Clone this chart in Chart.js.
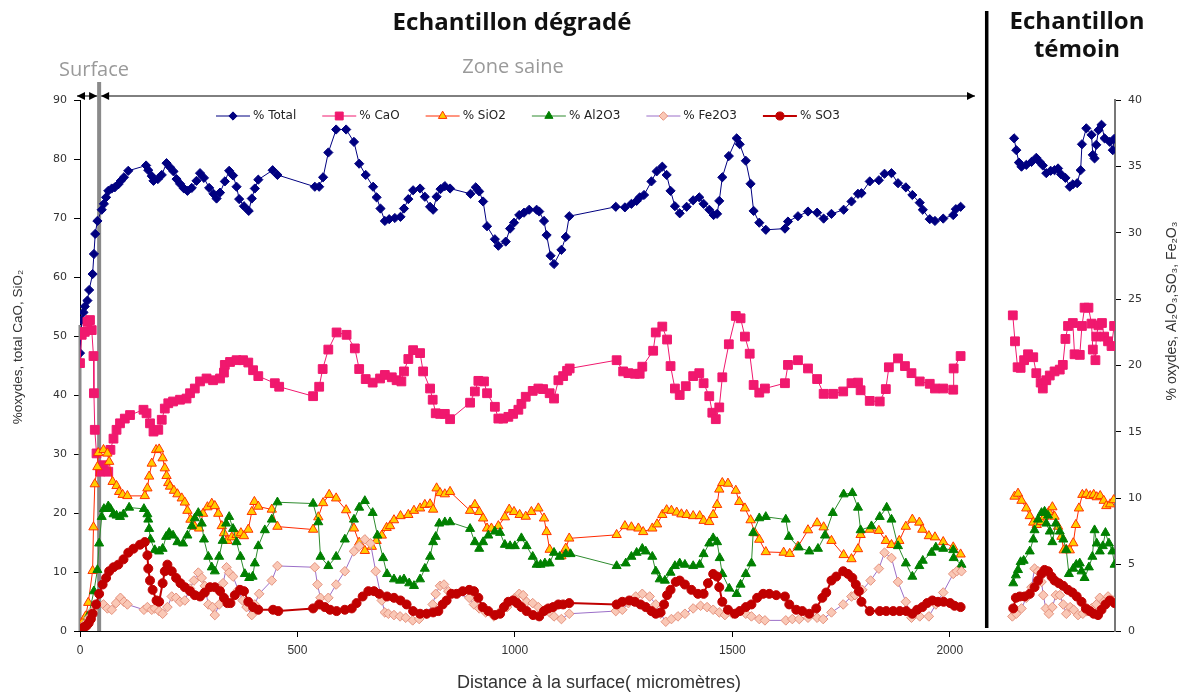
<!DOCTYPE html>
<html lang="fr">
<head>
<meta charset="utf-8">
<script src="https://cdn.jsdelivr.net/npm/chart.js@4.4.1/dist/chart.umd.min.js"></script>
<style>
  html, body { margin: 0; padding: 0; background: #fff; }
  #wrap { width: 1188px; height: 693px; position: relative; }
</style>
</head>
<body>
<div id="wrap"><canvas id="chart"></canvas></div>
<script>
// distances in micrometres, [x, value]
// left axis: Total, CaO, SiO2 (0-90) / right axis: Al2O3, Fe2O3, SO3 (0-40)
const totalDeg = [[0,47.1],[4,52.7],[8,54],[11,55],[17,56],[21,57.8],[29,60.5],[32,63.9],[35,67.3],[40,69.5],[50,71.4],[55,72.4],[60,73.5],[65,74.6],[73,75],[80,75.2],[88,75.7],[94,76.3],[101,76.9],[111,78],[152,78.9],[157,78.1],[165,77.1],[169,76.3],[179,76.6],[188,77.3],[199,79.3],[207,78.6],[215,77.9],[222,76.6],[230,75.8],[239,75],[247,74.6],[257,75.1],[268,76.3],[276,77.6],[285,76.8],[297,75.1],[307,74.1],[314,73.3],[322,74.3],[333,76.2],[343,78],[352,77.2],[360,75.3],[366,73.2],[377,72],[388,71.2],[395,73.3],[402,75],[410,76.5],[443,78.1],[454,77.3],[540,75.3],[550,75.3],[559,76.9],[571,81.1],[589,85],[612,85],[630,82.9],[642,79.2],[657,77.3],[674,75.3],[682,73.5],[691,71.6],[701,69.5],[711,69.8],[724,70],[737,70.2],[745,71.6],[755,73.2],[766,74.7],[782,75],[793,73.6],[805,71.9],[812,71.4],[820,73.6],[829,74.9],[839,75.4],[851,75],[898,74.1],[910,75.2],[918,74.5],[927,72.8],[936,68.6],[954,66.4],[962,65.3],[979,66],[989,68.2],[998,69.2],[1010,70.5],[1021,70.9],[1033,71.4],[1050,71.4],[1056,71.1],[1067,69.5],[1073,67.1],[1082,63.6],[1090,62.2],[1107,64.6],[1117,66.8],[1125,70.3],[1232,71.9],[1253,71.8],[1268,72.4],[1280,72.9],[1287,73.5],[1297,73.9],[1314,76.2],[1326,77.9],[1339,78.7],[1349,77.3],[1358,74.6],[1368,72],[1379,70.8],[1395,71.9],[1410,73],[1424,73.5],[1434,72.4],[1447,71.4],[1457,70.5],[1465,70.7],[1470,72.9],[1477,76.9],[1492,80.5],[1510,83.5],[1517,82.5],[1531,79.7],[1542,75.8],[1549,71.2],[1562,69.2],[1577,68],[1621,68.2],[1628,69.4],[1651,70.3],[1674,71.1],[1695,70.9],[1710,69.9],[1728,70.7],[1756,71.4],[1774,72.8],[1789,74.1],[1797,74.2],[1816,76.2],[1837,76.4],[1850,77.5],[1866,77.6],[1881,75.9],[1899,75.2],[1914,73.9],[1931,72.6],[1938,71.4],[1954,69.8],[1966,69.5],[1985,69.9],[2008,70.5],[2014,71.5],[2025,71.9]];
const totalTem = [[2148,83.5],[2153,81.5],[2159,79.4],[2165,78.7],[2176,79],[2188,79.5],[2199,80.2],[2207,79.5],[2214,78.9],[2222,77.6],[2232,78],[2241,78.1],[2249,78.4],[2256,77.4],[2266,76.8],[2276,75.3],[2283,75.7],[2293,75.9],[2301,78.1],[2304,82.5],[2314,85.2],[2326,84.1],[2329,80.7],[2333,80.1],[2337,82.4],[2342,84.9],[2349,85.8],[2356,83.5],[2368,82.9],[2375,81.5],[2378,83.4]];

const caoDeg = [[0,45.4],[4,50.2],[11,50.7],[17,52.4],[23,52.7],[27,51],[31,46.6],[32,40.3],[34,34.1],[38,30.1],[46,27],[54,28.1],[65,27],[70,30.7],[77,32.6],[84,34.1],[92,35.2],[103,36],[115,36.6],[146,37.5],[153,36.9],[161,35.2],[169,33.8],[180,34.1],[188,35.8],[195,37.7],[203,38.6],[214,38.9],[230,39.2],[245,39.4],[253,40.3],[264,41.1],[276,42.3],[291,42.8],[306,42.5],[322,42.8],[331,43.8],[333,45.1],[345,45.6],[360,45.9],[375,45.9],[387,45.5],[398,44.2],[410,43.2],[448,42],[458,41.4],[536,39.8],[550,41.4],[558,44.4],[571,47.7],[590,50.6],[613,50.2],[632,47.9],[642,44.4],[657,42.7],[673,42.1],[690,42.8],[701,43.4],[717,43],[728,42.5],[739,42.3],[745,44],[755,46.1],[766,47.6],[782,47.1],[789,44],[805,41.1],[811,39.2],[818,36.9],[828,36.8],[839,36.8],[851,35.9],[897,38.7],[908,40.6],[916,42.4],[929,42.3],[936,40.3],[954,38],[962,36],[973,36],[985,36.3],[996,36.8],[1008,37.5],[1015,38.5],[1025,39.7],[1041,40.7],[1054,41.1],[1065,41],[1080,40.3],[1090,39.4],[1100,42.5],[1111,43.2],[1120,44.1],[1126,44.5],[1234,45.9],[1249,44],[1261,43.7],[1276,43.6],[1287,43.6],[1293,44.8],[1318,47.5],[1324,50.6],[1339,51.6],[1350,49.4],[1358,44.9],[1368,41.1],[1379,40],[1393,41.5],[1410,43.2],[1424,43.7],[1434,42],[1447,39.8],[1454,37],[1462,35.9],[1470,37.9],[1477,43],[1492,48.6],[1508,53.4],[1519,53],[1529,49.9],[1540,47],[1549,41.7],[1562,40.4],[1575,41.1],[1621,42],[1628,45.1],[1651,45.9],[1674,44.5],[1695,42.7],[1710,40.2],[1732,40.2],[1755,40.6],[1774,42],[1789,42.1],[1795,40.8],[1816,39],[1839,38.9],[1853,41],[1860,44.7],[1881,46.2],[1897,44.9],[1912,43.7],[1931,42.3],[1954,41.9],[1966,41.1],[1985,41.1],[2008,40.9],[2009,44.5],[2025,46.6]];
const caoTem = [[2145,53.5],[2150,49.1],[2156,44.7],[2163,44.6],[2171,45.9],[2180,46.9],[2192,46.4],[2199,43.7],[2209,42.1],[2214,41.1],[2222,42.5],[2230,43.3],[2241,44],[2253,44.3],[2260,45.1],[2266,49.5],[2272,51.7],[2283,52.2],[2287,46.9],[2299,46.8],[2304,51.7],[2310,54.8],[2319,54.8],[2326,52.1],[2329,47.7],[2335,45.9],[2337,49.9],[2342,51.8],[2350,52.2],[2355,49.9],[2364,49.1],[2372,48.3],[2378,51.7]];

const sio2Deg = [[0,0.5],[4,1.2],[8,1.8],[13,2.5],[19,4.8],[29,10.2],[31,17.6],[34,24.9],[40,27.8],[42,30.2],[54,30.7],[63,30.1],[67,28.7],[75,25.3],[84,24.6],[90,23.6],[98,23.1],[109,22.9],[149,22.9],[155,24.2],[159,26.2],[165,28.4],[175,30.7],[182,30.8],[190,29.3],[195,27.6],[199,26.3],[203,25.1],[207,24.5],[216,23.8],[224,23.2],[234,22.5],[241,21.8],[247,20.4],[254,18.9],[264,17.7],[274,17.4],[283,19.9],[293,21],[303,21.6],[310,21.2],[318,19.9],[326,17.8],[331,16.6],[339,15.3],[349,15.9],[360,16.3],[370,16.6],[377,16.1],[387,17.2],[395,20.2],[401,21.9],[410,21.1],[441,20.6],[454,17.7],[536,17.2],[548,19.3],[559,21.7],[573,23.1],[589,22.5],[612,20.5],[630,17.4],[642,15],[655,13.6],[671,14.3],[682,15.3],[694,16.2],[705,17.5],[713,17.8],[722,18.8],[737,19.5],[755,19.7],[768,20.4],[782,20.8],[793,21.4],[805,21.5],[812,20.6],[820,24.2],[828,23.4],[839,23.2],[851,23.6],[897,20.4],[908,21.4],[918,20.2],[927,19.1],[936,17.4],[946,17.4],[962,17.8],[977,19.3],[987,20.6],[998,20.2],[1011,19.7],[1025,19.4],[1038,20.2],[1054,20.8],[1067,19.1],[1073,16.8],[1080,13.8],[1107,12.7],[1117,14],[1125,15.7],[1234,16.3],[1253,17.8],[1268,17.6],[1284,17.4],[1295,16.8],[1316,17.4],[1327,18.1],[1339,19.7],[1349,20.5],[1360,20.4],[1372,20.1],[1383,19.8],[1395,19.7],[1410,19.5],[1425,19.5],[1434,18.7],[1447,18.5],[1456,19.7],[1465,21.4],[1470,24],[1477,25.1],[1490,25],[1508,23.8],[1516,21.9],[1529,20.8],[1542,18.8],[1552,16.6],[1562,15.5],[1577,13.4],[1618,13.3],[1632,13.1],[1651,14.3],[1674,17.1],[1695,18.3],[1710,17.6],[1728,15.3],[1756,12.9],[1774,12.2],[1789,13.9],[1795,16.3],[1816,17.2],[1837,17],[1853,15.3],[1866,14.6],[1884,15.3],[1899,17.7],[1914,18.9],[1930,18.4],[1937,17.2],[1952,16.1],[1966,15.9],[1985,15.1],[2008,14.2],[2025,13]];
const sio2Tem = [[2149,22.8],[2157,23.3],[2165,22.1],[2176,20.8],[2184,19.5],[2192,18.4],[2200,18],[2211,18.5],[2218,19.4],[2228,20.2],[2236,21],[2241,19.4],[2249,17.7],[2257,16],[2262,13.7],[2268,13.8],[2276,13.7],[2284,14.9],[2290,18],[2297,20.8],[2305,23.1],[2314,23.2],[2323,22.9],[2331,23.1],[2338,22.7],[2346,22.9],[2354,22.1],[2360,21.2],[2369,21.5],[2377,22.2]];

const al2o3Deg = [[0,0.2],[10,0.5],[20,1.2],[32,3],[40,4.6],[44,6.6],[50,8.6],[55,9.2],[65,9.4],[70,9.2],[77,8.8],[84,8.7],[92,8.6],[100,8.8],[113,9.3],[147,9.2],[155,8.8],[157,8.4],[159,7.7],[162,6.9],[172,6.1],[182,6],[190,6.2],[198,7.1],[205,7.4],[214,7.2],[224,6.7],[237,6.6],[247,7.2],[257,7.9],[264,8.5],[272,8.9],[280,8.1],[285,6.9],[295,5.6],[303,4.8],[310,4.5],[320,5.6],[328,6.8],[336,8.1],[343,8.6],[352,7.7],[360,6.7],[369,5.6],[379,4.3],[389,4],[397,4.1],[402,5.1],[410,6.4],[425,7.6],[441,8.4],[454,9.7],[536,9.6],[548,8.2],[553,5.6],[571,4.9],[589,5.6],[609,6.9],[630,8.4],[642,9.3],[655,9.8],[673,8.9],[684,7.2],[697,5.5],[706,4.3],[722,3.9],[736,3.8],[745,3.9],[757,3.6],[768,3.4],[782,3.9],[793,4.7],[805,5.6],[812,6.7],[818,7.1],[826,8.1],[839,8.2],[851,8.2],[897,7.7],[908,6.7],[918,6.2],[927,6.7],[939,7.2],[954,7.5],[966,7.4],[977,6.5],[989,6.4],[1000,6.4],[1015,7],[1027,6.4],[1041,5.6],[1050,5],[1059,5],[1069,5.1],[1080,5.1],[1090,5.9],[1103,5.6],[1117,5.8],[1128,5.8],[1234,4.9],[1255,5.1],[1268,5.6],[1280,5.9],[1293,6.2],[1301,6],[1316,5.6],[1324,4.5],[1333,3.9],[1345,3.8],[1358,4.4],[1368,4.9],[1379,5.1],[1391,5],[1410,4.9],[1425,5],[1434,5.8],[1447,6.6],[1456,7],[1465,6.7],[1471,5.5],[1477,4.3],[1493,3.2],[1510,2.8],[1519,3.5],[1531,4.3],[1544,5.1],[1548,7.4],[1562,8.5],[1577,8.6],[1623,8.4],[1630,7.1],[1653,6.3],[1677,6],[1697,6.2],[1713,7.2],[1731,8.9],[1756,10.3],[1776,10.4],[1789,9.3],[1795,7.6],[1820,7.9],[1839,8.6],[1855,9.3],[1866,8.4],[1881,6.4],[1899,5.1],[1914,4.1],[1930,4.9],[1938,5.3],[1958,5.9],[1968,6.3],[1985,6.2],[2008,6.1],[2009,5.5],[2027,5]];
const al2o3Tem = [[2146,3.6],[2152,4.2],[2157,4.6],[2163,5.2],[2170,5.3],[2184,6],[2192,6.9],[2195,7.6],[2203,8.4],[2211,8.9],[2218,9],[2226,8.7],[2222,8.1],[2230,7.5],[2236,6.7],[2244,8.1],[2253,7.5],[2261,6.9],[2268,6.1],[2274,4.3],[2284,4.7],[2291,5],[2299,5.1],[2303,4.5],[2310,4],[2320,4.8],[2328,5.6],[2333,7.6],[2338,6.6],[2345,6],[2352,6.4],[2358,7.4],[2366,6.6],[2374,6],[2379,5]];

const fe2o3Deg = [[0,0.2],[10,0.5],[20,1],[30,1.5],[38,2],[54,2],[63,1.7],[73,1.6],[83,2.1],[93,2.5],[101,2.2],[109,2],[147,1.6],[155,1.8],[165,1.6],[172,1.7],[182,1.5],[190,1.3],[201,1.8],[211,2.6],[221,2.5],[230,2.2],[241,2.3],[253,3.2],[262,3.8],[272,4.4],[280,4],[287,3.4],[295,2],[305,1.8],[310,1.2],[320,2],[329,3.6],[337,4.8],[343,4.4],[352,4.1],[364,3.1],[374,2.3],[383,1.8],[395,1.2],[402,2],[412,2.8],[441,3.8],[454,4.9],[540,4.8],[546,3.5],[553,2.5],[571,2.5],[589,3.5],[609,4.5],[630,6],[642,6.4],[655,6.9],[668,6.6],[680,4.5],[694,2.3],[701,1.4],[709,1.3],[722,1.2],[736,1.1],[749,1],[765,0.8],[780,0.9],[797,1.3],[811,2],[818,2.8],[828,3.4],[837,3.5],[847,3],[895,2.5],[906,2],[918,1.7],[933,1.4],[952,1.1],[967,1.5],[982,1.8],[1000,2.5],[1010,2.8],[1019,2.7],[1027,2.2],[1041,2.1],[1054,1.8],[1069,1.6],[1080,1.4],[1090,1.1],[1107,0.9],[1125,1.3],[1232,1.5],[1247,1.6],[1261,2.1],[1278,2.6],[1293,2.8],[1310,2.6],[1324,2],[1335,1.3],[1347,0.7],[1360,0.9],[1375,1.1],[1391,1.3],[1410,1.7],[1427,1.9],[1442,1.8],[1456,1.6],[1470,1.4],[1483,1.2],[1500,1.3],[1516,1.5],[1531,1.3],[1544,1.1],[1562,0.9],[1575,0.8],[1623,0.8],[1638,0.9],[1654,0.9],[1674,1],[1695,1],[1709,0.9],[1728,1.4],[1755,2],[1774,2.6],[1782,2.7],[1799,3.1],[1818,3.8],[1837,4.7],[1850,5.9],[1866,5.5],[1881,3.7],[1899,2.2],[1912,1],[1931,1.1],[1952,1.1],[1968,2],[1985,2.9],[2008,4.3],[2016,4.5],[2027,4.5]];
const fe2o3Tem = [[2144,1.1],[2153,1.3],[2165,1.7],[2176,2.5],[2188,3.3],[2195,4.7],[2203,4.5],[2211,3.7],[2215,2.7],[2221,1.7],[2228,1.3],[2236,1.8],[2244,2.7],[2253,2.7],[2261,2],[2268,1.3],[2277,1.8],[2285,1.6],[2295,1.2],[2306,1.3],[2315,1.5],[2326,1.7],[2337,2],[2345,2.5],[2354,2.2],[2364,2.6],[2375,2.3]];

const so3Deg = [[0,0.1],[5,0.2],[10,0.3],[15,0.4],[20,0.6],[25,0.9],[29,1.3],[37,2],[44,2.8],[52,3.5],[60,4],[67,4.5],[77,4.8],[88,5],[100,5.4],[111,5.9],[123,6.2],[138,6.5],[149,6.7],[155,5.7],[157,4.7],[161,3.8],[167,3.1],[176,2.3],[182,2.2],[190,3.6],[195,4.5],[201,5],[211,4.5],[221,4],[231,3.6],[241,3.3],[253,3],[264,2.7],[276,2.6],[287,2.9],[299,3.3],[310,3.3],[322,3],[331,2.5],[339,2.1],[346,2.1],[356,2.7],[368,3.1],[377,3],[387,2.2],[398,1.8],[410,1.6],[444,1.6],[456,1.5],[536,1.7],[550,2],[563,1.8],[575,1.6],[590,1.5],[609,1.6],[625,1.7],[636,2.1],[650,2.6],[663,3],[676,3],[688,2.8],[706,2.6],[722,2.5],[737,2.3],[751,2],[766,1.5],[782,1.3],[797,1.3],[812,1.4],[824,1.5],[834,2],[843,2.3],[854,2.8],[866,2.8],[880,3],[895,3.1],[906,3],[916,2.5],[926,1.8],[939,1.5],[954,1.2],[966,1.3],[975,1.8],[985,2.2],[996,2.3],[1005,2.1],[1015,1.8],[1027,1.5],[1042,1.2],[1056,1.1],[1067,1.5],[1077,1.7],[1088,1.8],[1100,2],[1111,2],[1125,2.1],[1234,2],[1247,2.2],[1263,2.3],[1276,2.2],[1289,2],[1301,1.8],[1314,1.5],[1324,1.3],[1335,1.4],[1343,2],[1350,2.7],[1358,3.1],[1370,3.7],[1379,3.8],[1391,3.5],[1406,3.1],[1421,2.8],[1434,2.8],[1444,3.6],[1456,4.3],[1465,4.1],[1470,3.3],[1477,2.2],[1490,1.6],[1506,1.3],[1517,1.5],[1531,1.8],[1544,2],[1557,2.5],[1571,2.8],[1585,2.8],[1601,2.7],[1621,2.6],[1631,2],[1647,1.6],[1661,1.5],[1677,1.3],[1693,1.7],[1707,2.5],[1716,2.9],[1728,3.8],[1739,4.1],[1755,4.5],[1766,4.3],[1776,4],[1784,3.5],[1791,3],[1797,2.2],[1816,1.5],[1839,1.5],[1854,1.5],[1870,1.5],[1885,1.5],[1900,1.5],[1914,1.3],[1925,1.6],[1937,1.8],[1948,2.1],[1960,2.3],[1973,2.2],[1986,2.2],[2001,2.1],[2011,1.9],[2025,1.8]];
const so3Tem = [[2146,1.7],[2152,2.5],[2161,2.6],[2172,2.6],[2184,2.8],[2195,3.3],[2203,3.8],[2211,4.3],[2218,4.6],[2226,4.5],[2234,4.1],[2241,3.8],[2251,3.6],[2261,3.4],[2272,3.1],[2282,2.9],[2292,2.6],[2303,2.2],[2313,1.7],[2322,1.5],[2331,1.3],[2341,1.2],[2349,1.6],[2358,2],[2368,2.3],[2379,2.1]];

const xTicks = [0, 500, 1000, 1500, 2000];
const X_MAX = 2380;
const SURFACE_X = 44;     // limit of the surface zone
const SPLIT_X = 2085;     // separation degraded / reference sample
const ZONE_END_X = 2058;

const toPoints = (deg, tem) => [
  ...deg.map(([x, y]) => ({ x, y })),
  { x: SPLIT_X, y: null },
  ...tem.map(([x, y]) => ({ x, y })),
];

const tickFont = { family: "'DejaVu Sans', Verdana, sans-serif", size: 11 };
const narrow = "'Liberation Sans Narrow', 'Liberation Sans', Arial, sans-serif";

const datasets = [
  {
    label: "% Total", data: toPoints(totalDeg, totalTem), yAxisID: "y",
    borderColor: "#000080", backgroundColor: "#000080", borderWidth: 1,
    pointStyle: "rectRot", pointRadius: 4.6, pointBorderWidth: 1, order: 6,
  },
  {
    label: "% CaO", data: toPoints(caoDeg, caoTem), yAxisID: "y",
    borderColor: "#F0186E", backgroundColor: "#F0186E", borderWidth: 1,
    pointStyle: "rect", pointRadius: 6.2, pointBorderWidth: 1, order: 5,
  },
  {
    label: "% SiO2", data: toPoints(sio2Deg, sio2Tem), yAxisID: "y",
    borderColor: "#FF2A00", backgroundColor: "#FFCC00", borderWidth: 1,
    pointBackgroundColor: "#FFCC00", pointBorderColor: "#FF3300",
    pointStyle: "triangle", pointRadius: 5.4, pointBorderWidth: 1, order: 4,
  },
  {
    label: "% Al2O3", data: toPoints(al2o3Deg, al2o3Tem), yAxisID: "y1",
    borderColor: "#2E8B2E", backgroundColor: "#008000", borderWidth: 1,
    pointBackgroundColor: "#008000", pointBorderColor: "#008000",
    pointStyle: "triangle", pointRadius: 5.2, pointBorderWidth: 1, order: 3,
  },
  {
    label: "% Fe2O3", data: toPoints(fe2o3Deg, fe2o3Tem), yAxisID: "y1",
    borderColor: "#9B6FC8", backgroundColor: "#FAC8B6", borderWidth: 1,
    pointBackgroundColor: "#FAC8B6", pointBorderColor: "#E4927E",
    pointStyle: "rectRot", pointRadius: 4.8, pointBorderWidth: 1, order: 2,
  },
  {
    label: "% SO3", data: toPoints(so3Deg, so3Tem), yAxisID: "y1",
    borderColor: "#C00000", backgroundColor: "#C00000", borderWidth: 2,
    pointStyle: "circle", pointRadius: 4.5, pointBorderWidth: 1, order: 1,
  },
];

function doubleArrow(ctx, x1, x2, y) {
  ctx.beginPath();
  ctx.moveTo(x1, y);
  ctx.lineTo(x2, y);
  ctx.stroke();
  [[x1, -1], [x2, 1]].forEach(([x, dir]) => {
    ctx.beginPath();
    ctx.moveTo(x, y);
    ctx.lineTo(x - dir * 8, y - 4);
    ctx.lineTo(x - dir * 8, y + 4);
    ctx.closePath();
    ctx.fill();
  });
}

const overlay = {
  id: "overlay",
  beforeDatasetsDraw(chart) {
    const { ctx, chartArea: area, scales: { x } } = chart;
    ctx.save();
    ctx.strokeStyle = "#8a8a8a";
    ctx.lineWidth = 3;
    const x0 = x.getPixelForValue(0);
    ctx.beginPath();
    ctx.moveTo(x0, area.top + 225);
    ctx.lineTo(x0, area.bottom);
    ctx.stroke();
    ctx.lineWidth = 4;
    const xs = x.getPixelForValue(SURFACE_X);
    ctx.beginPath();
    ctx.moveTo(xs, area.top - 18);
    ctx.lineTo(xs, area.bottom);
    ctx.stroke();
    ctx.restore();
  },
  afterDraw(chart) {
    const { ctx, chartArea: area, scales: { x } } = chart;
    ctx.save();

    // separation line between the two samples
    const xSplit = x.getPixelForValue(SPLIT_X);
    ctx.strokeStyle = "#000";
    ctx.lineWidth = 3.5;
    ctx.beginPath();
    ctx.moveTo(xSplit, 11);
    ctx.lineTo(xSplit, area.bottom - 3);
    ctx.stroke();

    // zone arrows
    ctx.lineWidth = 1;
    ctx.fillStyle = "#000";
    const ay = area.top - 4;
    const x0 = x.getPixelForValue(0);
    const xs = x.getPixelForValue(SURFACE_X);
    doubleArrow(ctx, x0 - 3, xs - 2, ay);
    doubleArrow(ctx, xs + 2, x.getPixelForValue(ZONE_END_X), ay);

    // titles
    ctx.textAlign = "center";
    ctx.textBaseline = "middle";
    ctx.fillStyle = "#111";
    ctx.font = "bold 24px 'Open Sans', sans-serif";
    ctx.fillText("Echantillon dégradé", 512, 23);
    ctx.fillText("Echantillon", 1077, 22);
    ctx.fillText("témoin", 1077, 50);

    ctx.fillStyle = "#9a9a9a";
    ctx.font = "20px 'Open Sans', sans-serif";
    ctx.fillText("Surface", 94, 70);
    ctx.fillText("Zone saine", 513, 67);

    // axis titles
    ctx.fillStyle = "#333";
    ctx.font = "18px " + narrow;
    ctx.fillText("Distance à la surface( micromètres)", 599, 683);
    ctx.font = "13.5px " + narrow;
    ctx.save();
    ctx.translate(18, 347);
    ctx.rotate(-Math.PI / 2);
    ctx.fillText("%oxydes, total CaO, SiO₂", 0, 0);
    ctx.restore();
    ctx.font = "14px " + narrow;
    ctx.save();
    ctx.translate(1172, 311);
    ctx.rotate(-Math.PI / 2);
    ctx.fillText("% oxydes, Al₂O₃,SO₃, Fe₂O₃", 0, 0);
    ctx.restore();

    // legend: line with marker, then label
    const ly = area.top + 16;
    let lx = 216;
    ctx.font = "12px 'DejaVu Sans', Verdana, sans-serif";
    ctx.textAlign = "left";
    chart.data.datasets.forEach((ds) => {
      ctx.strokeStyle = ds.borderColor;
      ctx.lineWidth = ds.borderWidth;
      ctx.beginPath();
      ctx.moveTo(lx, ly);
      ctx.lineTo(lx + 34, ly);
      ctx.stroke();
      ctx.fillStyle = ds.pointBackgroundColor || ds.backgroundColor;
      ctx.strokeStyle = ds.pointBorderColor || ds.borderColor;
      ctx.lineWidth = 1;
      Chart.helpers.drawPoint(ctx, {
        pointStyle: ds.pointStyle, radius: ds.pointRadius * 0.9, rotation: 0, borderWidth: 1,
      }, lx + 17, ly);
      ctx.fillStyle = "#222";
      ctx.fillText(ds.label, lx + 37, ly);
      lx += 37 + ctx.measureText(ds.label).width + 26;
    });
    ctx.restore();
  },
};

const axisLook = (fit) => ({
  border: { color: "#000", width: 1 },
  grid: { drawOnChartArea: false, color: "#000", tickLength: 6 },
  afterFit: fit,
});

new Chart(document.getElementById("chart"), {
  type: "line",
  data: { datasets },
  options: {
    responsive: true,
    maintainAspectRatio: false,
    animation: false,
    spanGaps: false,
    layout: { padding: { top: 100, left: 0, right: 0, bottom: 0 } },
    elements: { line: { tension: 0 } },
    scales: {
      x: {
        type: "linear", min: 0, max: X_MAX,
        ...axisLook((s) => { s.height = 62; }),
        afterBuildTicks: (s) => { s.ticks = xTicks.map((v) => ({ value: v })); },
        ticks: {
          maxRotation: 0, padding: 6, autoSkip: false,
          color: "#333", font: { family: narrow, size: 12 },
          callback: (v) => String(v),
        },
      },
      y: {
        position: "left", min: 0, max: 90,
        ...axisLook((s) => { s.width = 80; }),
        ticks: { stepSize: 10, color: "#333", font: tickFont, padding: 7 },
      },
      y1: {
        position: "right", min: 0, max: 40,
        ...axisLook((s) => { s.width = 73; }),
        border: { color: "#777", width: 2 },
        ticks: { stepSize: 5, color: "#333", font: tickFont, padding: 7 },
      },
    },
    plugins: {
      legend: { display: false },
      tooltip: { enabled: false },
    },
  },
  plugins: [overlay],
});
</script>
</body>
</html>
